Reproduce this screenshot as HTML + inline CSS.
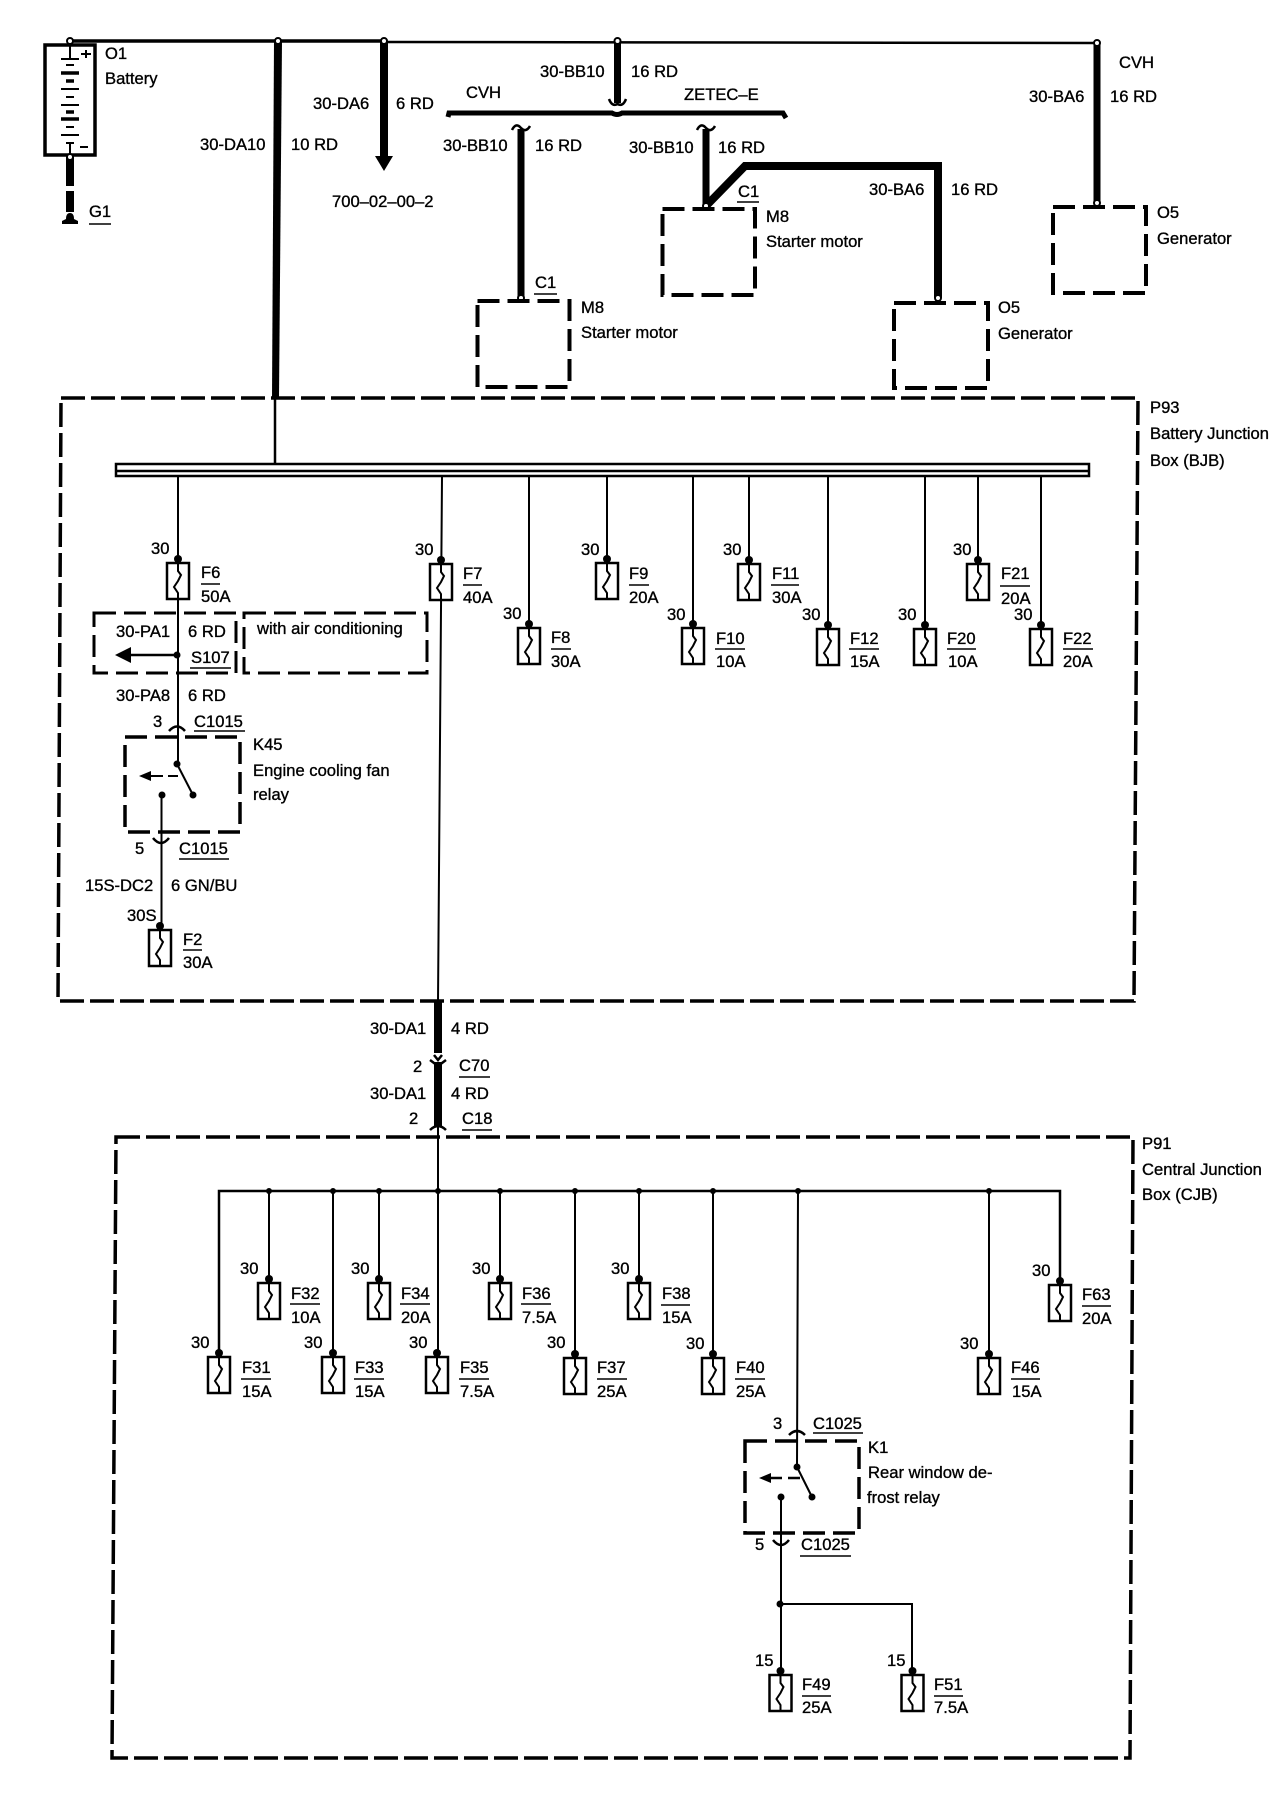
<!DOCTYPE html>
<html><head><meta charset="utf-8"><style>
html,body{margin:0;padding:0;background:#fff}
svg{display:block}
text{font-family:"Liberation Sans",sans-serif;font-size:16.6px;fill:#000;stroke:#000;stroke-width:.35}
.w{fill:none;stroke:#000;stroke-linecap:butt;stroke-linejoin:miter}
.d{fill:none;stroke:#000;stroke-width:4;stroke-dasharray:22 8}
.b{fill:none;stroke:#000;stroke-width:3.5;stroke-dasharray:24 6}
.f rect{fill:#fff;stroke:#000;stroke-width:2.5}
.f path{fill:none;stroke:#000;stroke-width:2}
.u{stroke:#000;stroke-width:1.5}
</style></head><body>
<svg width="1280" height="1798" viewBox="0 0 1280 1798" xmlns="http://www.w3.org/2000/svg">
<rect width="1280" height="1798" fill="#fff"/>

<!-- top feed -->
<path class="w" stroke-width="3.5" d="M70 41H384"/>
<path class="w" stroke-width="2.5" d="M384 42L1097 43"/>

<!-- battery -->
<rect x="45" y="45" width="50" height="110" fill="#fff" stroke="#000" stroke-width="3.5"/>
<path class="w" stroke-width="2" d="M70 45V58M61 59H79M70 143V155M66 143H74M81 54H91M86 50V58M80 147H88"/>
<path class="w" stroke-width="2" d="M66 65H74M61 89H79M66 97H74M61 105H79M66 127H74M61 135H79"/>
<path class="w" stroke-width="3.5" d="M61 73H79M66 81H74M61 119H79M66 112H74"/>
<path class="w" stroke-width="8" d="M70 157V186M70 191V212"/>
<path d="M62 224V221L66 219Q66 213 70 213Q74 213 74 219L78 221V224Z" fill="#000"/>
<circle cx="70" cy="41" r="3" fill="#fff" stroke="#000" stroke-width="2"/>
<circle cx="70" cy="157" r="3" fill="#fff" stroke="#000" stroke-width="2"/>
<text x="105" y="59">O1</text>
<text x="105" y="84">Battery</text>
<text x="89" y="217">G1</text><path class="u" d="M89 224H111"/>

<!-- 30-DA10 -->
<path d="M274 41H282L279 398H272Z" fill="#000"/>
<path class="w" stroke-width="2.5" d="M275 398V463"/>
<circle cx="278" cy="41" r="3" fill="#fff" stroke="#000" stroke-width="2"/>
<text x="200" y="150">30-DA10</text><text x="291" y="150">10 RD</text>

<!-- 30-DA6 -->
<path class="w" stroke-width="8" d="M384 41V158"/>
<path d="M375 156H393L384 171Z" fill="#000"/>
<circle cx="384" cy="41" r="3" fill="#fff" stroke="#000" stroke-width="2"/>
<text x="313" y="109">30-DA6</text><text x="396" y="109">6 RD</text>
<text x="332" y="207">700–02–00–2</text>

<!-- CVH / ZETEC split -->
<path class="w" stroke-width="5" d="M448 117L449 113H612Q617 116 622 113H783L786 118"/>
<text x="466" y="98">CVH</text>
<text x="684" y="100">ZETEC–E</text>
<path class="w" stroke-width="7" d="M617.5 41V103"/>
<path class="w" stroke-width="2.5" d="M609 99Q612 107 617.5 104Q623 107 626 99"/>
<circle cx="617.5" cy="41" r="3" fill="#fff" stroke="#000" stroke-width="2"/>
<text x="540" y="77">30-BB10</text><text x="631" y="77">16 RD</text>

<path class="w" stroke-width="7" d="M521 129V297"/>
<path class="w" stroke-width="2.5" d="M512 130Q516 122 521 128Q526 133 530 126"/>
<circle cx="521" cy="298" r="3" fill="#fff" stroke="#000" stroke-width="2"/>
<text x="443" y="151">30-BB10</text><text x="535" y="151">16 RD</text>
<text x="535" y="288">C1</text><path class="u" d="M534 294H557"/>
<rect class="d" x="477.5" y="301" width="92" height="86"/>
<text x="581" y="313">M8</text><text x="581" y="338">Starter motor</text>

<path class="w" stroke-width="7" d="M706 129V205"/>
<path class="w" stroke-width="2.5" d="M697 130Q701 122 706 128Q711 133 715 126"/>
<path class="w" stroke-width="8" d="M706 206L745 166H938V298"/>
<circle cx="706" cy="206" r="3" fill="#fff" stroke="#000" stroke-width="2"/>
<circle cx="938" cy="298" r="3" fill="#fff" stroke="#000" stroke-width="2"/>
<text x="629" y="153">30-BB10</text><text x="718" y="153">16 RD</text>
<text x="738" y="197">C1</text><path class="u" d="M737 202H759"/>
<rect class="d" x="662.5" y="209" width="92.5" height="86"/>
<text x="766" y="222">M8</text><text x="766" y="247">Starter motor</text>
<text x="869" y="195">30-BA6</text><text x="951" y="195">16 RD</text>
<rect class="d" x="894" y="303" width="94" height="85"/>
<text x="998" y="313">O5</text><text x="998" y="339">Generator</text>

<path class="w" stroke-width="7" d="M1097 43V203"/>
<circle cx="1097" cy="43" r="3" fill="#fff" stroke="#000" stroke-width="2"/>
<circle cx="1097" cy="203" r="3" fill="#fff" stroke="#000" stroke-width="2"/>
<text x="1119" y="68">CVH</text>
<text x="1029" y="102">30-BA6</text><text x="1110" y="102">16 RD</text>
<rect class="d" x="1053" y="207" width="93" height="86"/>
<text x="1157" y="218">O5</text><text x="1157" y="244">Generator</text>

<!-- P93 -->
<path class="b" d="M61 398H1138L1134 1001H58Z"/>
<text x="1150" y="413">P93</text><text x="1150" y="439">Battery Junction</text><text x="1150" y="466">Box (BJB)</text>
<rect x="116" y="464" width="973" height="12" fill="#fff" stroke="#000" stroke-width="2.5"/>
<path class="w" stroke-width="2.5" d="M116 471H1089"/>

<!-- BJB branch wires -->
<path class="w" stroke-width="2" d="M178 477V763M442 477L438 1002M529 477V628M607 477V563M693 477V628M749 477V564M828 477V629M925 477V629M978 477V564M1041 477V629"/>

<!-- BJB fuses -->
<g class="f" transform="translate(178,563)"><circle cy="-4" r="4"/><rect x="-11" width="22" height="36"/><path d="M0 0V8L3 12L0 18L-4 24L0 30V36"/></g>
<text x="151" y="554">30</text><text x="201" y="578">F6</text><path class="u" d="M201 584H220"/><text x="201" y="602">50A</text>
<g class="f" transform="translate(441,564)"><circle cy="-4" r="4"/><rect x="-11" width="22" height="36"/><path d="M0 0V8L3 12L0 18L-4 24L0 30V36"/></g>
<text x="415" y="555">30</text><text x="463" y="579">F7</text><path class="u" d="M463 585H482"/><text x="463" y="603">40A</text>
<g class="f" transform="translate(529,628)"><circle cy="-4" r="4"/><rect x="-11" width="22" height="36"/><path d="M0 0V8L3 12L0 18L-4 24L0 30V36"/></g>
<text x="503" y="619">30</text><text x="551" y="643">F8</text><path class="u" d="M551 649H571"/><text x="551" y="667">30A</text>
<g class="f" transform="translate(607,563)"><circle cy="-4" r="4"/><rect x="-11" width="22" height="36"/><path d="M0 0V8L3 12L0 18L-4 24L0 30V36"/></g>
<text x="581" y="555">30</text><text x="629" y="579">F9</text><path class="u" d="M629 585H649"/><text x="629" y="603">20A</text>
<g class="f" transform="translate(693,628)"><circle cy="-4" r="4"/><rect x="-11" width="22" height="36"/><path d="M0 0V8L3 12L0 18L-4 24L0 30V36"/></g>
<text x="667" y="620">30</text><text x="716" y="644">F10</text><path class="u" d="M715 649H745"/><text x="716" y="667">10A</text>
<g class="f" transform="translate(749,564)"><circle cy="-4" r="4"/><rect x="-11" width="22" height="36"/><path d="M0 0V8L3 12L0 18L-4 24L0 30V36"/></g>
<text x="723" y="555">30</text><text x="772" y="579">F11</text><path class="u" d="M771 585H799"/><text x="772" y="603">30A</text>
<g class="f" transform="translate(828,629)"><circle cy="-4" r="4"/><rect x="-11" width="22" height="36"/><path d="M0 0V8L3 12L0 18L-4 24L0 30V36"/></g>
<text x="802" y="620">30</text><text x="850" y="644">F12</text><path class="u" d="M849 649H879"/><text x="850" y="667">15A</text>
<g class="f" transform="translate(925,629)"><circle cy="-4" r="4"/><rect x="-11" width="22" height="36"/><path d="M0 0V8L3 12L0 18L-4 24L0 30V36"/></g>
<text x="898" y="620">30</text><text x="947" y="644">F20</text><path class="u" d="M947 649H976"/><text x="948" y="667">10A</text>
<g class="f" transform="translate(978,564)"><circle cy="-4" r="4"/><rect x="-11" width="22" height="36"/><path d="M0 0V8L3 12L0 18L-4 24L0 30V36"/></g>
<text x="953" y="555">30</text><text x="1001" y="579">F21</text><path class="u" d="M1000 586H1030"/><text x="1001" y="604">20A</text>
<g class="f" transform="translate(1041,629)"><circle cy="-4" r="4"/><rect x="-11" width="22" height="36"/><path d="M0 0V8L3 12L0 18L-4 24L0 30V36"/></g>
<text x="1014" y="620">30</text><text x="1063" y="644">F22</text><path class="u" d="M1063 649H1093"/><text x="1063" y="667">20A</text>

<!-- air-con option -->
<rect class="d" style="stroke-width:3" x="94" y="613" width="142" height="60"/>
<rect class="d" style="stroke-width:3" x="244" y="613" width="183" height="60"/>
<path class="w" stroke-width="2.5" d="M177 655H130"/>
<path d="M115 655L131 647V663Z" fill="#000"/>
<circle cx="177" cy="655" r="3.5"/>
<text x="116" y="637">30-PA1</text><text x="188" y="637">6 RD</text>
<text x="191" y="663">S107</text><path class="u" d="M190 668H231"/>
<text x="257" y="634">with air conditioning</text>
<text x="116" y="701">30-PA8</text><text x="188" y="701">6 RD</text>

<!-- K45 -->
<text x="153" y="727">3</text><text x="194" y="727">C1015</text><path class="u" d="M194 731H245"/>
<path class="w" stroke-width="2.5" d="M169 731Q177 722 185 731"/>
<rect class="d" style="stroke-width:3.5" x="125" y="737" width="115" height="95"/>
<text x="253" y="750">K45</text><text x="253" y="776">Engine cooling fan</text><text x="253" y="800">relay</text>
<circle cx="177" cy="764" r="3.5"/><circle cx="193" cy="795" r="3.5"/><circle cx="162" cy="795" r="3.5"/>
<path class="w" stroke-width="2" d="M177 764L193 795"/>
<path class="w" stroke-width="2" d="M178 776H168M163 776H148"/>
<path d="M139 776L151 771V781Z" fill="#000"/>
<path class="w" stroke-width="2" d="M161.5 795V924"/>
<path class="w" stroke-width="2.5" d="M153 838Q161 848 169 838"/>
<text x="135" y="854">5</text><text x="179" y="854">C1015</text><path class="u" d="M179 859H229"/>
<text x="85" y="891">15S-DC2</text><text x="171" y="891">6 GN/BU</text>
<text x="127" y="921">30S</text>
<g class="f" transform="translate(160,930)"><circle cy="-4" r="4"/><rect x="-11" width="22" height="36"/><path d="M0 0V8L3 12L0 18L-4 24L0 30V36"/></g>
<text x="183" y="945">F2</text><path class="u" d="M183 950H202"/><text x="183" y="968">30A</text>

<!-- trunk to CJB -->
<path class="w" stroke-width="8" d="M438 1002V1053M438 1062V1127"/>
<path class="w" stroke-width="2.5" d="M434 1055L438 1060L442 1055M430 1060L438 1066L446 1060M430 1130Q438 1122 446 1130"/>
<path class="w" stroke-width="2" d="M438 1127V1191"/>
<text x="370" y="1034">30-DA1</text><text x="451" y="1034">4 RD</text>
<text x="413" y="1072">2</text><text x="459" y="1071">C70</text><path class="u" d="M459 1077H490"/>
<text x="370" y="1099">30-DA1</text><text x="451" y="1099">4 RD</text>
<text x="409" y="1124">2</text><text x="462" y="1124">C18</text><path class="u" d="M462 1130H492"/>

<!-- P91 -->
<path class="b" d="M116 1137H1133L1130 1758H112Z"/>
<text x="1142" y="1149">P91</text><text x="1142" y="1175">Central Junction</text><text x="1142" y="1200">Box (CJB)</text>

<!-- CJB bus -->
<path class="w" stroke-width="2.5" d="M219 1357V1191H1060V1285"/>
<path class="w" stroke-width="2" d="M269 1191V1283M333 1191V1357M379 1191V1283M438 1191V1357M500 1191V1283M575 1191V1358M639 1191V1283M713 1191V1358M989 1191V1358M798 1191L797 1467"/>
<g fill="#000"><circle cx="269" cy="1191" r="3"/><circle cx="333" cy="1191" r="3"/><circle cx="379" cy="1191" r="3"/><circle cx="438" cy="1191" r="3"/><circle cx="500" cy="1191" r="3"/><circle cx="575" cy="1191" r="3"/><circle cx="639" cy="1191" r="3"/><circle cx="713" cy="1191" r="3"/><circle cx="798" cy="1191" r="3"/><circle cx="989" cy="1191" r="3"/></g>

<!-- CJB fuses -->
<g class="f" transform="translate(219,1357)"><circle cy="-4" r="4"/><rect x="-11" width="22" height="36"/><path d="M0 0V8L3 12L0 18L-4 24L0 30V36"/></g>
<text x="191" y="1348">30</text><text x="242" y="1373">F31</text><path class="u" d="M241 1379H271"/><text x="242" y="1397">15A</text>
<g class="f" transform="translate(269,1283)"><circle cy="-4" r="4"/><rect x="-11" width="22" height="36"/><path d="M0 0V8L3 12L0 18L-4 24L0 30V36"/></g>
<text x="240" y="1274">30</text><text x="291" y="1299">F32</text><path class="u" d="M290 1304H320"/><text x="291" y="1323">10A</text>
<g class="f" transform="translate(333,1357)"><circle cy="-4" r="4"/><rect x="-11" width="22" height="36"/><path d="M0 0V8L3 12L0 18L-4 24L0 30V36"/></g>
<text x="304" y="1348">30</text><text x="355" y="1373">F33</text><path class="u" d="M354 1379H384"/><text x="355" y="1397">15A</text>
<g class="f" transform="translate(379,1283)"><circle cy="-4" r="4"/><rect x="-11" width="22" height="36"/><path d="M0 0V8L3 12L0 18L-4 24L0 30V36"/></g>
<text x="351" y="1274">30</text><text x="401" y="1299">F34</text><path class="u" d="M400 1304H430"/><text x="401" y="1323">20A</text>
<g class="f" transform="translate(437,1357)"><circle cy="-4" r="4"/><rect x="-11" width="22" height="36"/><path d="M0 0V8L3 12L0 18L-4 24L0 30V36"/></g>
<text x="409" y="1348">30</text><text x="460" y="1373">F35</text><path class="u" d="M459 1379H489"/><text x="460" y="1397">7.5A</text>
<g class="f" transform="translate(500,1283)"><circle cy="-4" r="4"/><rect x="-11" width="22" height="36"/><path d="M0 0V8L3 12L0 18L-4 24L0 30V36"/></g>
<text x="472" y="1274">30</text><text x="522" y="1299">F36</text><path class="u" d="M521 1304H551"/><text x="522" y="1323">7.5A</text>
<g class="f" transform="translate(575,1358)"><circle cy="-4" r="4"/><rect x="-11" width="22" height="36"/><path d="M0 0V8L3 12L0 18L-4 24L0 30V36"/></g>
<text x="547" y="1348">30</text><text x="597" y="1373">F37</text><path class="u" d="M597 1379H627"/><text x="597" y="1397">25A</text>
<g class="f" transform="translate(639,1283)"><circle cy="-4" r="4"/><rect x="-11" width="22" height="36"/><path d="M0 0V8L3 12L0 18L-4 24L0 30V36"/></g>
<text x="611" y="1274">30</text><text x="662" y="1299">F38</text><path class="u" d="M661 1305H690"/><text x="662" y="1323">15A</text>
<g class="f" transform="translate(713,1358)"><circle cy="-4" r="4"/><rect x="-11" width="22" height="36"/><path d="M0 0V8L3 12L0 18L-4 24L0 30V36"/></g>
<text x="686" y="1349">30</text><text x="736" y="1373">F40</text><path class="u" d="M735 1379H765"/><text x="736" y="1397">25A</text>
<g class="f" transform="translate(989,1358)"><circle cy="-4" r="4"/><rect x="-11" width="22" height="36"/><path d="M0 0V8L3 12L0 18L-4 24L0 30V36"/></g>
<text x="960" y="1349">30</text><text x="1011" y="1373">F46</text><path class="u" d="M1011 1379H1040"/><text x="1012" y="1397">15A</text>
<g class="f" transform="translate(1060,1285)"><circle cy="-4" r="4"/><rect x="-11" width="22" height="36"/><path d="M0 0V8L3 12L0 18L-4 24L0 30V36"/></g>
<text x="1032" y="1276">30</text><text x="1082" y="1300">F63</text><path class="u" d="M1082 1306H1111"/><text x="1082" y="1324">20A</text>

<!-- K1 -->
<text x="773" y="1429">3</text><text x="813" y="1429">C1025</text><path class="u" d="M813 1433H863"/>
<path class="w" stroke-width="2.5" d="M789 1435Q797 1427 805 1435"/>
<rect class="d" style="stroke-width:3.5" x="745" y="1441" width="114" height="92"/>
<text x="868" y="1453">K1</text><text x="868" y="1478">Rear window de-</text><text x="867" y="1503">frost relay</text>
<circle cx="797" cy="1467" r="3.5"/><circle cx="812" cy="1497" r="3.5"/><circle cx="781" cy="1497" r="3.5"/>
<path class="w" stroke-width="2" d="M797 1467L812 1497"/>
<path class="w" stroke-width="2.5" d="M800 1478H788M782 1478H768"/>
<path d="M759 1478L771 1473V1483Z" fill="#000"/>
<path class="w" stroke-width="2" d="M781 1497V1675M780 1604H912V1670"/>
<path class="w" stroke-width="2.5" d="M773 1540Q781 1550 789 1540"/>
<circle cx="780" cy="1604" r="3.5"/>
<text x="755" y="1550">5</text><text x="801" y="1550">C1025</text><path class="u" d="M800 1556H851"/>
<text x="755" y="1666">15</text><text x="887" y="1666">15</text>
<g class="f" transform="translate(780.5,1675)"><circle cy="-4" r="4"/><rect x="-11" width="22" height="36"/><path d="M0 0V8L3 12L0 18L-4 24L0 30V36"/></g>
<text x="802" y="1690">F49</text><path class="u" d="M802 1696H831"/><text x="802" y="1713">25A</text>
<g class="f" transform="translate(912.5,1675)"><circle cy="-4" r="4"/><rect x="-11" width="22" height="36"/><path d="M0 0V8L3 12L0 18L-4 24L0 30V36"/></g>
<text x="934" y="1690">F51</text><path class="u" d="M934 1696H963"/><text x="934" y="1713">7.5A</text>
</svg>
</body></html>
